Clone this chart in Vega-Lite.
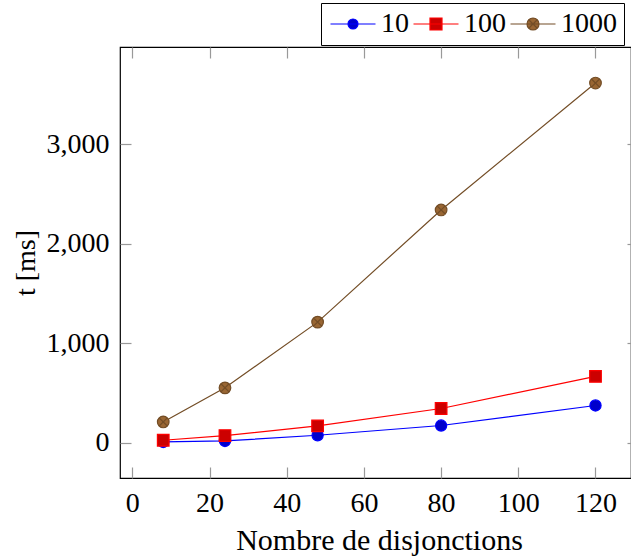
{
  "$schema": "https://vega.github.io/schema/vega-lite/v6.json",
  "width": 511,
  "height": 431,
  "autosize": {"type": "none"},
  "padding": {"left": 120, "top": 47, "right": 0, "bottom": 80},
  "background": "white",
  "config": {
    "view": {"stroke": "#000", "strokeWidth": 1.2},
    "font": "Liberation Serif",
    "axis": {
      "domain": false, "grid": false,
      "tickColor": "#999", "tickWidth": 1.2, "tickSize": -11,
      "labelFont": "Liberation Serif", "labelFontSize": 28, "labelColor": "#000",
      "titleFont": "Liberation Serif", "titleFontSize": 28, "titleFontWeight": "normal", "titleColor": "#000"
    }
  },
  "data": {
    "values": [
      {"x": 8, "t": 10, "series": "10"},
      {"x": 24, "t": 20, "series": "10"},
      {"x": 48, "t": 77, "series": "10"},
      {"x": 80, "t": 175, "series": "10"},
      {"x": 120, "t": 376, "series": "10"},
      {"x": 8, "t": 27, "series": "100"},
      {"x": 24, "t": 74, "series": "100"},
      {"x": 48, "t": 171, "series": "100"},
      {"x": 80, "t": 346, "series": "100"},
      {"x": 120, "t": 668, "series": "100"},
      {"x": 8, "t": 211, "series": "1000"},
      {"x": 24, "t": 553, "series": "1000"},
      {"x": 48, "t": 1213, "series": "1000"},
      {"x": 80, "t": 2339, "series": "1000"},
      {"x": 120, "t": 3613, "series": "1000"}
    ]
  },
  "resolve": {"axis": {"x": "independent", "y": "independent"}},
  "layer": [
    {
      "transform": [{"filter": "datum.series == '10'"}],
      "mark": {"type": "line", "strokeWidth": 1.2, "stroke": "#0000ff"},
      "encoding": {
        "x": {"field": "x", "type": "quantitative",
          "scale": {"domain": [-3.2, 129.2], "nice": false, "zero": false},
          "axis": {"orient": "bottom", "values": [0, 20, 40, 60, 80, 100, 120], "labelPadding": 22, "title": "Nombre de disjonctions", "titlePadding": 8, "titleFontSize": 30, "titleX": 259}},
        "y": {"field": "t", "type": "quantitative",
          "scale": {"domain": [-352, 3975], "nice": false, "zero": false},
          "axis": {"orient": "left", "values": [0, 1000, 2000, 3000], "format": ",d", "labelPadding": 22, "title": "t [ms]", "titlePadding": 6}}
      }
    },
    {
      "transform": [{"filter": "datum.series == '100'"}],
      "mark": {"type": "line", "strokeWidth": 1.2, "stroke": "#ff0000"},
      "encoding": {
        "x": {"field": "x", "type": "quantitative", "axis": null},
        "y": {"field": "t", "type": "quantitative", "axis": null}
      }
    },
    {
      "transform": [{"filter": "datum.series == '1000'"}],
      "mark": {"type": "line", "strokeWidth": 1.2, "stroke": "#734d26"},
      "encoding": {
        "x": {"field": "x", "type": "quantitative", "axis": null},
        "y": {"field": "t", "type": "quantitative", "axis": null}
      }
    },
    {
      "transform": [{"filter": "datum.series == '10'"}],
      "mark": {"type": "point", "filled": true, "size": 125, "strokeWidth": 1.2, "opacity": 1, "shape": "circle", "fill": "#0000cc", "stroke": "#0000ff"},
      "encoding": {
        "x": {"field": "x", "type": "quantitative",
          "axis": {"orient": "top", "values": [0, 20, 40, 60, 80, 100, 120], "labels": false, "title": null}},
        "y": {"field": "t", "type": "quantitative",
          "axis": {"orient": "right", "values": [0, 1000, 2000, 3000], "labels": false, "title": null, "offset": 7}}
      }
    },
    {
      "transform": [{"filter": "datum.series == '100'"}],
      "mark": {"type": "point", "filled": true, "size": 135, "strokeWidth": 1.2, "opacity": 1, "shape": "square", "fill": "#cc0000", "stroke": "#ff0000"},
      "encoding": {
        "x": {"field": "x", "type": "quantitative", "axis": null},
        "y": {"field": "t", "type": "quantitative", "axis": null}
      }
    },
    {
      "transform": [{"filter": "datum.series == '1000'"}],
      "mark": {"type": "point", "filled": true, "size": 135, "strokeWidth": 1.2, "opacity": 1,
        "shape": "M1,0A1,1,0,1,1,-1,0A1,1,0,1,1,1,0ZM-0.7,-0.7L0.7,0.7M-0.7,0.7L0.7,-0.7", "fill": "#996633", "stroke": "#734d26"},
      "encoding": {
        "x": {"field": "x", "type": "quantitative", "axis": null},
        "y": {"field": "t", "type": "quantitative", "axis": null}
      }
    },
    {
      "transform": [{"filter": "datum.x < 0"}],
      "mark": {"type": "point", "filled": true, "opacity": 1},
      "encoding": {
        "x": {"field": "x", "type": "quantitative", "axis": null},
        "y": {"field": "t", "type": "quantitative", "axis": null},
        "fill": {"field": "series", "type": "nominal",
          "scale": {"domain": ["10", "100", "1000"], "range": ["#0000cc", "#cc0000", "#996633"]}},
        "stroke": {"field": "series", "type": "nominal",
          "scale": {"domain": ["10", "100", "1000"], "range": ["#0000ff", "#ff0000", "#734d26"]}},
        "shape": {"field": "series", "type": "nominal",
          "scale": {"domain": ["10", "100", "1000"], "range": [
            "M-4.5,0H4.5M1,0A1,1,0,1,1,-1,0A1,1,0,1,1,1,0Z",
            "M-4.5,0H4.5M-1.2,-1.2H1.2V1.2H-1.2Z",
            "M-4.5,0H4.5M1.2,0A1.2,1.2,0,1,1,-1.2,0A1.2,1.2,0,1,1,1.2,0ZM-0.85,-0.85L0.85,0.85M-0.85,0.85L0.85,-0.85"]},
          "legend": {"orient": "none", "legendX": 201, "legendY": -44, "direction": "horizontal", "title": null,
            "strokeColor": "#000", "fillColor": "#fff", "padding": 7, "symbolSize": 100, "symbolStrokeWidth": 1.2,
            "symbolOpacity": 1, "labelFont": "Liberation Serif", "labelFontSize": 28, "labelColor": "#000",
            "columnPadding": 2, "symbolOffset": 11, "labelOffset": 14}}
      }
    }
  ]
}
